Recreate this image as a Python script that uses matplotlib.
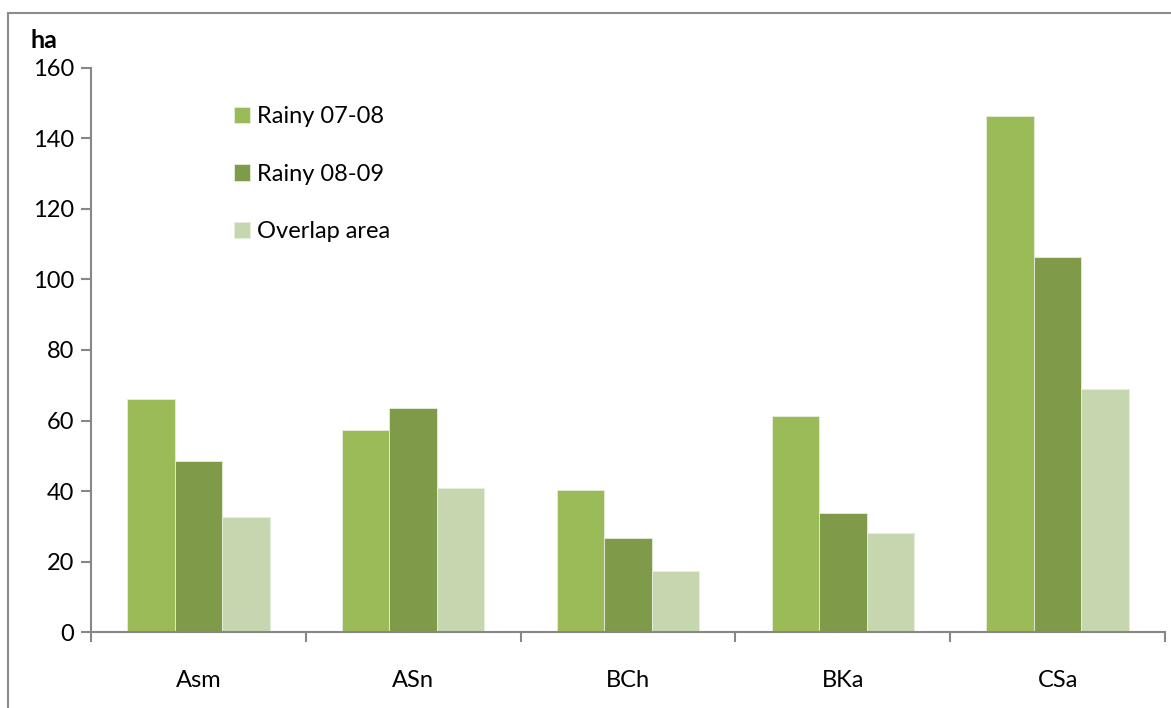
import numpy as np
import matplotlib.pyplot as plt
from matplotlib.patches import Rectangle

plt.rcParams['font.family'] = ['Lato', 'DejaVu Sans']

sites = ['Asm', 'ASn', 'BCh', 'BKa', 'CSa']
rainy_0708 = [66.1, 57.2, 40.3, 61.3, 146.4]
rainy_0809 = [48.5, 63.5, 26.7, 33.8, 106.4]
overlap = [32.6, 40.9, 17.3, 28.1, 68.9]
series = ['Rainy 07-08', 'Rainy 08-09', 'Overlap area']
colors = ['#9BBB59', '#7F9A48', '#C6D7B0']

fig = plt.figure(figsize=(11.71, 7.08), dpi=100)
ax = fig.add_axes([0.0777, 0.1073, 0.9172, 0.7967])

# outer chart frame (cut off at right/bottom like the original)
fig.patches.append(Rectangle((8/1171, -0.05), 1.2, 1 - 13/708 + 0.05,
                             transform=fig.transFigure, fill=False,
                             edgecolor='#8c8c8c', lw=1.5, clip_on=False))

x = np.arange(len(sites))
w = 0.221
for i, (vals, lab, c) in enumerate(zip([rainy_0708, rainy_0809, overlap], series, colors)):
    ax.bar(x + (i - 1) * w, vals, w, color=c, label=lab,
           edgecolor='#e6eedc', linewidth=0.6)

ax.set_xlim(-0.5, len(sites) - 0.5)
ax.set_ylim(0, 160)
ax.set_yticks(range(0, 161, 20))
ax.set_xticks(x)
ax.set_xticklabels(sites)
ax.set_xticks(np.arange(-0.5, len(sites)), minor=True)
ax.tick_params(axis='x', which='major', length=0, pad=27, labelsize=17)
ax.tick_params(axis='x', which='minor', length=7, color='#878787', width=1.5)
ax.tick_params(axis='y', length=7, color='#878787', width=1.5, labelsize=17, pad=5)

for s in ['top', 'right']:
    ax.spines[s].set_visible(False)
for s in ['left', 'bottom']:
    ax.spines[s].set_color('#878787')
    ax.spines[s].set_linewidth(1.5)

fig.text(44/1171, 1 - 40/708, 'ha', fontsize=18, fontweight='bold', ha='center', va='center')

ax.legend(loc='upper left', bbox_to_anchor=(0.113, 0.97), frameon=False,
          fontsize=17, labelspacing=1.55, handlelength=0.7, handleheight=0.7,
          handletextpad=0.3)

fig.savefig('out.png', dpi=100)
